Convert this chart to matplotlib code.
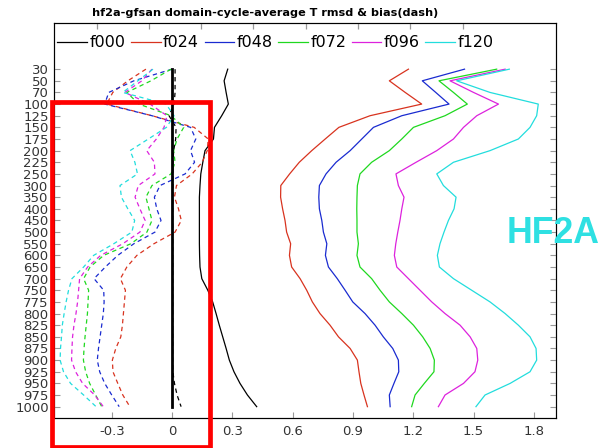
import numpy as np
import matplotlib
matplotlib.use("Agg")
import matplotlib.pyplot as plt
from matplotlib.patches import Rectangle

# pressure levels (hPa), plotted on an evenly spaced index axis
levels = [30, 50, 70, 100, 125, 150, 175, 200, 225, 250, 300, 350, 400, 450, 500,
          550, 600, 650, 700, 750, 775, 800, 825, 850, 875, 900, 925, 950, 975, 1000]

leads = ["f000", "f024", "f048", "f072", "f096", "f120"]
colors = ["#000000", "#d8331f", "#1a2bd0", "#1fd81f", "#dd22dd", "#22dddd"]

# rmsd (solid)
rmsd_f000 = [0.277, 0.259, 0.269, 0.280, 0.247, 0.211, 0.206, 0.164, 0.153, 0.143,
             0.139, 0.136, 0.136, 0.136, 0.136, 0.136, 0.137, 0.139, 0.148, 0.178,
             0.202, 0.219, 0.235, 0.252, 0.269, 0.285, 0.308, 0.338, 0.375, 0.421]
rmsd_f024 = [1.176, 1.081, 1.160, 1.242, 0.985, 0.830, 0.762, 0.695, 0.633, 0.585,
             0.541, 0.540, 0.550, 0.562, 0.570, 0.590, 0.584, 0.595, 0.637, 0.670,
             0.698, 0.736, 0.786, 0.828, 0.886, 0.922, 0.930, 0.939, 0.955, 0.972]
rmsd_f048 = [1.455, 1.245, 1.312, 1.378, 1.143, 1.002, 0.944, 0.886, 0.816, 0.766,
             0.733, 0.730, 0.733, 0.745, 0.753, 0.770, 0.763, 0.778, 0.822, 0.861,
             0.899, 0.960, 1.010, 1.051, 1.098, 1.126, 1.128, 1.104, 1.081, 1.085]
rmsd_f072 = [1.615, 1.328, 1.400, 1.469, 1.358, 1.201, 1.143, 1.081, 0.993, 0.935,
             0.922, 0.920, 0.919, 0.920, 0.920, 0.927, 0.920, 0.935, 0.993, 1.035,
             1.081, 1.143, 1.201, 1.247, 1.284, 1.305, 1.303, 1.255, 1.209, 1.192]
rmsd_f096 = [1.657, 1.383, 1.500, 1.624, 1.516, 1.450, 1.400, 1.317, 1.214, 1.114,
             1.126, 1.154, 1.143, 1.134, 1.123, 1.113, 1.106, 1.118, 1.176, 1.234,
             1.292, 1.358, 1.433, 1.483, 1.516, 1.521, 1.507, 1.450, 1.358, 1.325]
rmsd_f120 = [1.678, 1.416, 1.582, 1.822, 1.814, 1.781, 1.723, 1.582, 1.400, 1.317,
             1.350, 1.413, 1.403, 1.375, 1.353, 1.333, 1.320, 1.330, 1.400, 1.491,
             1.582, 1.657, 1.723, 1.781, 1.811, 1.814, 1.781, 1.682, 1.557, 1.512]

# bias (dashed)
bias_f000 = [0.015, 0.015, 0.015, 0.010, -0.015, 0.020, 0.018, 0.008, 0.005, 0.004,
             0.004, 0.004, 0.003, 0.003, 0.003, 0.003, 0.003, 0.003, 0.003, 0.003,
             0.003, 0.003, 0.003, 0.003, 0.003, 0.003, 0.004, 0.012, 0.025, 0.045]
bias_f024 = [-0.130, -0.220, -0.295, -0.325, -0.100, 0.110, 0.180, 0.175, 0.150, 0.100,
             0.022, 0.012, 0.032, 0.046, 0.015, -0.090, -0.175, -0.225, -0.257, -0.232,
             -0.237, -0.242, -0.247, -0.255, -0.280, -0.297, -0.294, -0.270, -0.245, -0.210]
bias_f048 = [0.000, -0.190, -0.315, -0.335, -0.100, 0.092, 0.118, 0.092, 0.112, 0.065,
             -0.060, -0.088, -0.076, -0.055, -0.085, -0.190, -0.270, -0.332, -0.388, -0.340,
             -0.338, -0.342, -0.350, -0.358, -0.366, -0.372, -0.360, -0.335, -0.300, -0.263]
bias_f072 = [-0.005, -0.105, -0.225, -0.165, -0.005, 0.058, 0.025, 0.008, 0.015, -0.005,
             -0.100, -0.130, -0.115, -0.100, -0.125, -0.205, -0.340, -0.408, -0.440, -0.415,
             -0.418, -0.421, -0.427, -0.433, -0.438, -0.441, -0.430, -0.410, -0.380, -0.350]
bias_f096 = [-0.100, -0.150, -0.235, -0.110, -0.025, -0.040, -0.078, -0.126, -0.088, -0.085,
             -0.168, -0.184, -0.160, -0.134, -0.160, -0.245, -0.355, -0.420, -0.460, -0.465,
             -0.470, -0.478, -0.488, -0.495, -0.498, -0.500, -0.480, -0.445, -0.385, -0.342]
bias_f120 = [-0.095, -0.170, -0.245, -0.030, 0.010, -0.028, -0.118, -0.209, -0.185, -0.172,
             -0.259, -0.252, -0.220, -0.186, -0.200, -0.290, -0.390, -0.440, -0.498, -0.515,
             -0.527, -0.537, -0.546, -0.550, -0.555, -0.557, -0.540, -0.505, -0.440, -0.378]

rmsd = [rmsd_f000, rmsd_f024, rmsd_f048, rmsd_f072, rmsd_f096, rmsd_f120]
bias = [bias_f000, bias_f024, bias_f048, bias_f072, bias_f096, bias_f120]

xticks = [-0.3, 0, 0.3, 0.6, 0.9, 1.2, 1.5, 1.8]
xticklabels = ["-0.3", "0", "0.3", "0.6", "0.9", "1.2", "1.5", "1.8"]

fig = plt.figure(figsize=(6.03, 4.48), dpi=100)
ax = fig.add_axes([0.090, 0.0676, 0.832, 0.8814])

y = np.arange(len(levels))
handles = []
for name, c, r, b in zip(leads, colors, rmsd, bias):
    h, = ax.plot(r, y, color=c, lw=0.9, label=name)
    ax.plot(b, y, color=c, lw=0.9, dashes=(3.5, 2.8))
    handles.append(h)

# zero line
ax.plot(np.zeros(len(levels)), y, color="black", lw=2.0)

ax.set_xlim(-0.586, 1.910)
ax.set_ylim(29.95, -3.98)
ax.set_yticks(y)
ax.set_yticklabels([str(v) for v in levels])
ax.set_xticks(xticks)
ax.set_xticklabels(xticklabels)
ax.tick_params(direction="in", length=4, color="#999999", labelcolor="#333333",
               labelsize=9.5, right=True, pad=5)
ax.tick_params(axis="y", pad=4)
for s in ax.spines.values():
    s.set_color("#999999")
    s.set_linewidth(0.9)

# top tick marks (legend frame)
top = ax.twiny()
top.set_xlim(0, 1)
top.set_xticks(0.0845 + 0.1042 * np.arange(8))
top.set_xticklabels([])
top.tick_params(direction="in", length=4, width=0.9, color="#999999")

ax.legend(handles=handles, loc="center left", bbox_to_anchor=(0.0, 0.949),
          ncol=6, frameon=False, fontsize=11.5, handlelength=1.85,
          handletextpad=0.15, columnspacing=0.35, borderaxespad=0.0, borderpad=0.2)

fig.text(265.5 / 603, 1 - 13.5 / 448, "hf2a-gfsan domain-cycle-average T rmsd & bias(dash)",
         fontsize=8.1, fontweight="bold", ha="center", va="center")

fig.patches.append(Rectangle((51.5 / 603, 1 - 447.0 / 448), (210 - 51.5) / 603,
                             (447.0 - 102) / 448, transform=fig.transFigure,
                             fill=False, edgecolor="#ff0000", lw=3.4, zorder=10))

fig.text(553 / 603, 1 - 233.7 / 448, "HF2A", color="#2ee0e2", fontsize=25.7,
         fontweight="bold", family="Liberation Sans", ha="center", va="center")

fig.savefig("out.png", dpi=100)
